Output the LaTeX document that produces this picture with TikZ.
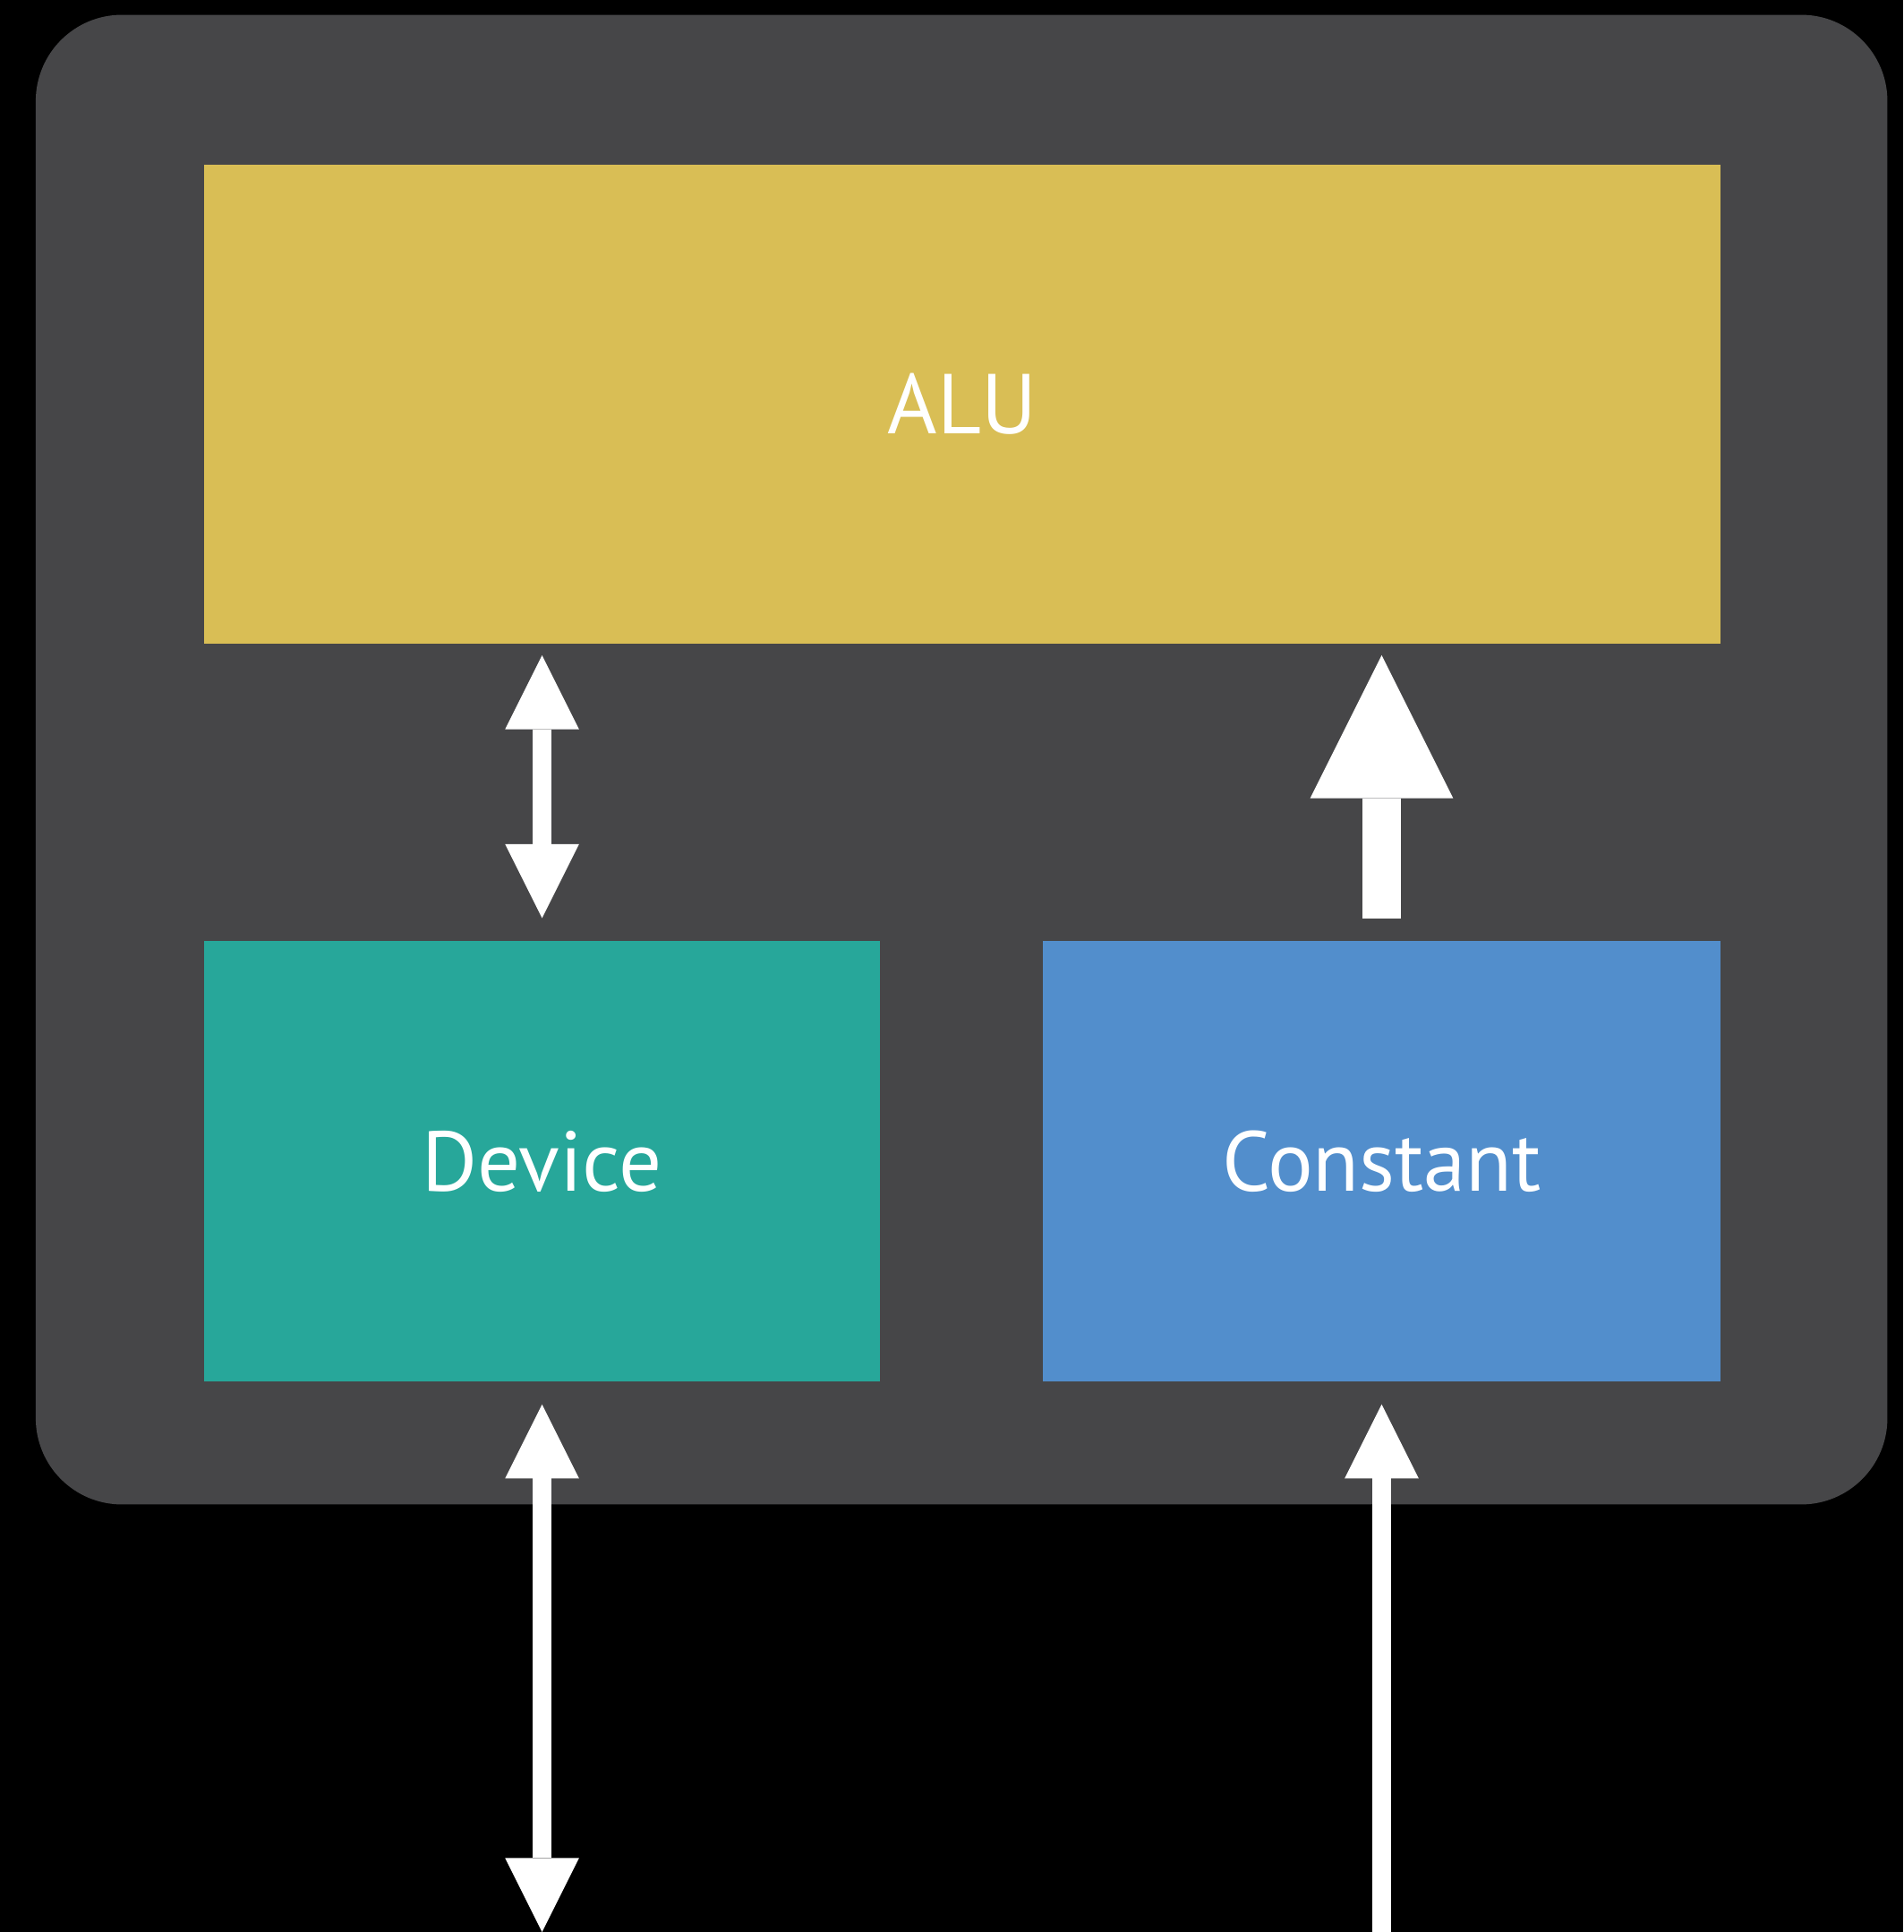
\documentclass[tikz,border=0pt]{standalone}
\usepackage{fontspec}
\setmainfont{PT Sans}
\usetikzlibrary{positioning,arrows.meta}
\definecolor{alugold}{HTML}{D9BE55}
\definecolor{devteal}{HTML}{27A79A}
\definecolor{constblue}{HTML}{528ECC}
\definecolor{framegray}{HTML}{464648}

\tikzset{
  smallhead/.tip={Triangle[width=6mm,length=6mm,line width=0pt]},
  bighead/.tip={Triangle[width=11.6mm,length=11.6mm,line width=0pt]}
}

\begin{document}
\begin{tikzpicture}[x=0.01cm,y=-0.01cm,
    unit/.style={fill=#1,draw=none,inner sep=0pt,text=white,font=\fontsize{19.6}{24}\selectfont},
    thinboth/.style={draw=white,line width=1.5mm,smallhead-smallhead},
    thinup/.style={draw=white,line width=1.5mm,-smallhead},
    bigup/.style={draw=white,line width=3.1mm,-bighead}]

    \useasboundingbox (0,0) rectangle (1545,1568);
    \fill[black] (0,0) rectangle (1545,1568);

    % core frame
    \fill[framegray,rounded corners=7mm] (29,12) rectangle (1532,1221);

    \node[unit=alugold,minimum width=12.3cm,minimum height=3.88cm] (alu) at (781,328) {ALU};
    \node[unit=devteal,minimum width=5.48cm,minimum height=3.57cm] (dev) at (440,942.5) {Device};
    \node[unit=constblue,minimum width=5.49cm,minimum height=3.57cm] (cst) at (1121.5,942.5) {Constant};

    \coordinate (devout) at (440,1568);
    \coordinate (cstin) at (1121.5,1600);

    \draw[thinboth,shorten <=0.9mm,shorten >=1.8mm] (alu.south -| dev.north) -- (dev.north);
    \draw[bigup,shorten <=1.8mm,shorten >=0.9mm] (cst.north) -- (alu.south -| cst.north);

    \draw[thinboth,shorten <=1.8mm] (dev.south) -- (devout);
    \draw[thinup,shorten >=1.8mm] (cstin) -- (cst.south);
\end{tikzpicture}
\end{document}
